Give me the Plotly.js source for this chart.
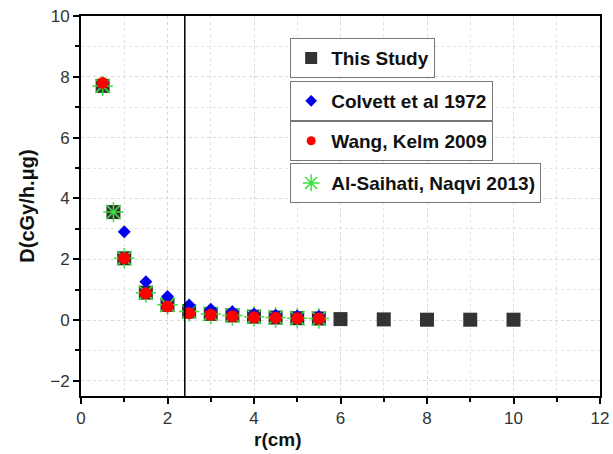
<!DOCTYPE html>
<html><head><meta charset="utf-8">
<script src="https://cdn.plot.ly/plotly-3.0.1.min.js"></script>
<style>html,body{margin:0;padding:0;background:#fff}#chart{width:613px;height:454px}</style>
</head><body><div id="chart"></div>
<script>
// Data
const studyR   = [0.5, 0.75, 1, 1.5, 2, 2.5, 3, 3.5, 4, 4.5, 5, 5.5, 6, 7, 8, 9, 10];
const studyD   = [7.7, 3.55, 2.03, 0.9, 0.5, 0.28, 0.2, 0.15, 0.11, 0.08, 0.06, 0.05, 0.03, 0.02, 0.01, 0.01, 0.01];
const colvettR = [1, 1.5, 2, 2.5, 3, 3.5, 4, 4.5, 5, 5.5];
const colvettD = [2.9, 1.26, 0.77, 0.49, 0.35, 0.27, 0.2, 0.16, 0.13, 0.12];
const wangR    = [0.5, 1, 1.5, 2, 2.5, 3, 3.5, 4, 4.5, 5, 5.5];
const wangD    = [7.8, 2.03, 0.88, 0.44, 0.22, 0.17, 0.12, 0.09, 0.07, 0.06, 0.05];
const saihatiR = [0.5, 0.75, 1, 1.5, 2, 2.5, 3, 3.5, 4, 4.5, 5, 5.5];
const saihatiD = [7.7, 3.55, 2.03, 0.9, 0.5, 0.28, 0.2, 0.15, 0.11, 0.08, 0.06, 0.05];
const refLineR = 2.4;
const names = ['This Study', 'Colvett et al 1972', 'Wang, Kelm 2009', 'Al-Saihati, Naqvi 2013)'];

const FONT = 'Liberation Sans, Arial, Helvetica, sans-serif';
const green = '#3de03d';

const traces = [
  {x: studyR, y: studyD, name: names[0], mode: 'markers', type: 'scatter', showlegend: false,
   marker: {symbol: 'square', size: 14, color: '#333333'}},
  {x: saihatiR, y: saihatiD, name: names[3], mode: 'markers', type: 'scatter', showlegend: false,
   marker: {symbol: 'asterisk-open', size: 17, color: green, line: {color: green, width: 1.5}}},
  {x: colvettR, y: colvettD, name: names[1], mode: 'markers', type: 'scatter', showlegend: false,
   marker: {symbol: 'diamond', size: 10, color: '#0000ee'}},
  {x: wangR, y: wangD, name: names[2], mode: 'markers', type: 'scatter', showlegend: false,
   marker: {symbol: 'circle', size: 12, color: '#ff0000'}},
  // legend entries (smaller symbols, as in the reference legend)
  {x: [null], y: [null], name: '<b>' + names[0] + '</b>', mode: 'markers', type: 'scatter', legend: 'legend',
   marker: {symbol: 'square', size: 12, color: '#333333'}},
  {x: [null], y: [null], name: '<b>' + names[1] + '</b>', mode: 'markers', type: 'scatter', legend: 'legend2',
   marker: {symbol: 'diamond', size: 9, color: '#0000ee'}},
  {x: [null], y: [null], name: '<b>' + names[2] + '</b>', mode: 'markers', type: 'scatter', legend: 'legend3',
   marker: {symbol: 'circle', size: 9, color: '#ff0000'}},
  {x: [null], y: [null], name: '<b>' + names[3] + '</b>', mode: 'markers', type: 'scatter', legend: 'legend4',
   marker: {symbol: 'asterisk-open', size: 14, color: green, line: {color: green, width: 1.5}}}
];

const legFont = {family: FONT, size: 19, color: '#111'};
function leg(y) {
  return {x: 0.403, y: y, xanchor: 'left', yanchor: 'top', bgcolor: '#fff',
          bordercolor: '#777', borderwidth: 1, font: legFont, itemsizing: 'trace'};
}

const axisCommon = {
  showline: true, linecolor: '#000', linewidth: 2, mirror: true,
  ticks: 'outside', ticklen: 6, tickwidth: 2, tickcolor: '#000',
  showgrid: true, gridcolor: '#d8d8d8', griddash: 'dot', gridwidth: 1,
  zeroline: false,
  tickfont: {family: FONT, size: 17, color: '#333'},
  minor: {dtick: 1, ticks: 'outside', ticklen: 4, tickwidth: 2, tickcolor: '#000',
          showgrid: true, gridcolor: '#e4e4e4', griddash: 'dot', gridwidth: 1}
};

const layout = {
  width: 613, height: 454,
  margin: {l: 81, r: 13, t: 16, b: 58},
  paper_bgcolor: '#fff', plot_bgcolor: '#fff',
  showlegend: true,
  xaxis: Object.assign({}, axisCommon, {range: [0, 12], dtick: 2, tick0: 0}),
  yaxis: Object.assign({}, axisCommon, {range: [-2.5, 10], dtick: 2, tick0: 0,
    title: {text: '<b>D(cGy/h.μg)</b>', standoff: 10,
            font: {family: FONT, size: 20, color: '#111'}}}),
  annotations: [{text: '<b>r(cm)</b>', xref: 'paper', yref: 'paper', x: 0.38, y: -0.114,
                 xanchor: 'center', yanchor: 'middle', showarrow: false,
                 font: {family: FONT, size: 19, color: '#111'}}],
  legend: leg(0.942),
  legend2: leg(0.829),
  legend3: leg(0.724),
  legend4: leg(0.613),
  shapes: [{type: 'line', xref: 'x', yref: 'paper', x0: refLineR, x1: refLineR, y0: 0, y1: 1,
            line: {color: '#000', width: 1.5}}]
};

Plotly.newPlot('chart', traces, layout, {displayModeBar: false, staticPlot: true});
</script>
</body></html>
